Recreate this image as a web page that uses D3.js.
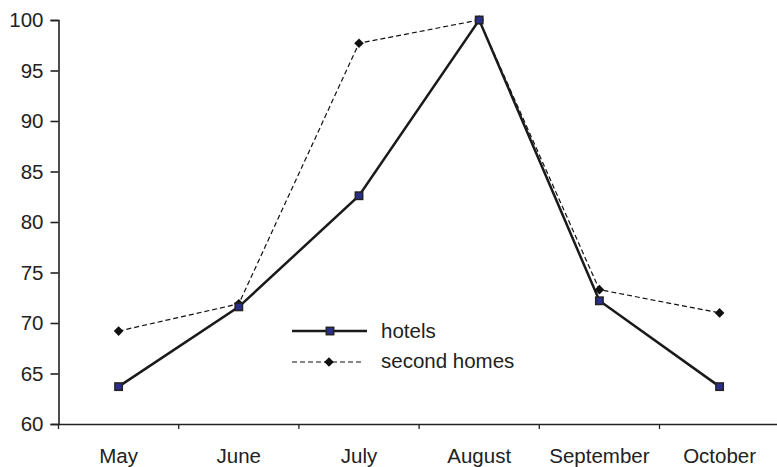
<!DOCTYPE html>
<html><head><meta charset="utf-8">
<script src="https://cdn.jsdelivr.net/npm/d3@7"></script>
<style>body{margin:0;background:#fff;} text{font-family:"Liberation Sans",Arial,sans-serif;fill:#222;}</style>
</head><body>
<svg id="c" width="777" height="467"></svg>
<script>
const categories = ["May","June","July","August","September","October"];
const hotels = [63.7, 71.6, 82.6, 100, 72.2, 63.7];
const secondHomes = [69.2, 71.9, 97.7, 100, 73.3, 71.0];
const yTicks = [60,65,70,75,80,85,90,95,100];

(function(){
const svg = d3.select("#c");
const mLeft = 58.5, mTop = 20, mBottom = 424, band = 120.2;
const fs = "20.5px";
const x = d3.scaleBand().domain(categories).range([mLeft, mLeft + band*categories.length]);
const y = d3.scaleLinear().domain([60,100]).range([mBottom, mTop]);
const cx = c => x(c) + x.bandwidth()/2;

// y axis
const ya = svg.append("g").attr("transform",`translate(${mLeft},0)`)
  .call(d3.axisLeft(y).tickValues(yTicks).tickSize(8).tickPadding(7));
ya.selectAll("text").style("font-size",fs);
ya.selectAll("line,path").attr("stroke","#222").attr("stroke-width",1.6);

// x axis
const xa = svg.append("g").attr("transform",`translate(0,${mBottom})`)
  .call(d3.axisBottom(x).tickSize(0).tickPadding(24));
xa.selectAll("text").style("font-size",fs);
xa.select("path").attr("stroke","#222").attr("stroke-width",1.6);
xa.selectAll(".tick line").remove();
svg.append("g").selectAll("line").data(categories).join("line")
  .attr("x1",d=>x(d)).attr("x2",d=>x(d)).attr("y1",mBottom).attr("y2",mBottom+5)
  .attr("stroke","#222").attr("stroke-width",1.3);

const line = d3.line().x((d,i)=>cx(categories[i])).y(d=>y(d));

svg.append("path").datum(secondHomes).attr("d",line).attr("fill","none")
  .attr("stroke","#111").attr("stroke-width",1.2).attr("stroke-dasharray","5,3");
svg.append("path").datum(hotels).attr("d",line).attr("fill","none")
  .attr("stroke","#1a1a1a").attr("stroke-width",2.5);

const dia = d3.symbol().type(d3.symbolSquare).size(46);
svg.append("g").selectAll("path").data(secondHomes).join("path")
  .attr("d", dia)
  .attr("transform",(d,i)=>`translate(${cx(categories[i])},${y(d)}) rotate(45)`)
  .attr("fill","#111");
svg.append("g").selectAll("rect").data(hotels).join("rect")
  .attr("x",(d,i)=>cx(categories[i])-3.7).attr("y",d=>y(d)-3.7)
  .attr("width",7.4).attr("height",7.4).attr("fill","#2b2f8a").attr("stroke","#222").attr("stroke-width",1.5);

// legend
const lg = svg.append("g");
lg.append("line").attr("x1",292).attr("x2",367).attr("y1",331).attr("y2",331).attr("stroke","#1a1a1a").attr("stroke-width",2.5);
lg.append("rect").attr("x",326.3).attr("y",327.3).attr("width",7.4).attr("height",7.4).attr("fill","#2b2f8a").attr("stroke","#222").attr("stroke-width",1.5);
lg.append("text").attr("x",381).attr("y",338).style("font-size",fs).text("hotels");
lg.append("line").attr("x1",292).attr("x2",362).attr("y1",362).attr("y2",362).attr("stroke","#111").attr("stroke-width",1.2).attr("stroke-dasharray","5,3");
lg.append("path").attr("d", dia).attr("transform","translate(329,362) rotate(45)").attr("fill","#111");
lg.append("text").attr("x",381).attr("y",368).style("font-size",fs).text("second homes");
})();
</script>
</body></html>
